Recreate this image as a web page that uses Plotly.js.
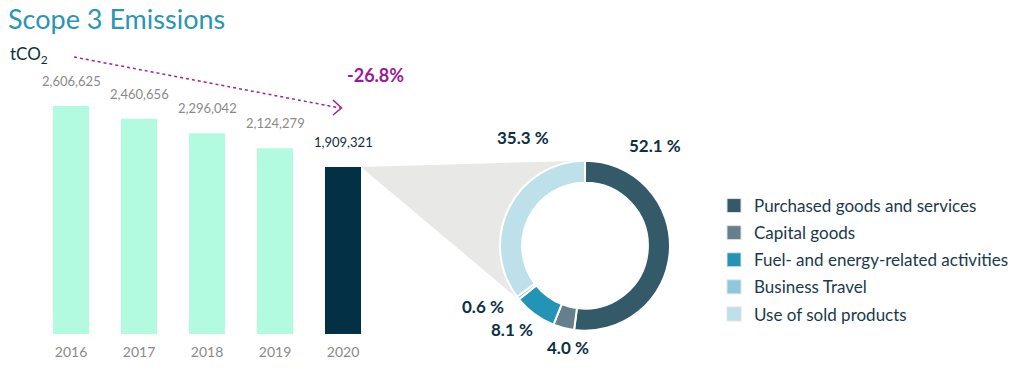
<!DOCTYPE html>
<html><head><meta charset="utf-8">
<script src="https://cdn.plot.ly/plotly-3.0.1.min.js"></script>
<style>body{margin:0;background:#fff}#c{width:1036px;height:378px}</style>
</head><body><div id="c"></div>
<script>
const years = ['2016','2017','2018','2019','2020'];
const emissions = [2606625, 2460656, 2296042, 2124279, 1909321];
const barColors = ['#b3fbe0','#b3fbe0','#b3fbe0','#b3fbe0','#033045'];
const labelColors = ['#8a8a8a','#8a8a8a','#8a8a8a','#8a8a8a','#0d2f44'];
const categories = ['Purchased goods and services','Capital goods','Fuel- and energy-related activities','Business Travel','Use of sold products'];
const shares = [52.1, 4.0, 8.1, 0.6, 35.3];
const sliceColors = ['#345a6a','#65808c','#2394b5','#8fc8dc','#bde0ea'];
const changeText = '-26.8%';

const W = 1036, H = 378;
const px = x => x / W, py = y => 1 - y / H;
const xDom = [px(37), px(377)];
const yDom = [py(334), py(40)];
const yMax = 3361000;
const bargap = 0.47;

// pie geometry
const cx = 585, cy = 245.7, rOut = 85;
const pieDomX = [px(cx - rOut), px(cx + rOut)];
const pieDomY = [py(cy + rOut), py(cy - rOut)];

// gray connector polygon from the 2020 bar to the donut
const slot = (xDom[1] - xDom[0]) * W / years.length;
const barRight = xDom[0] * W + slot * (years.length - 1 + 0.5 + (1 - bargap) / 2);
const last = emissions[emissions.length - 1];
const barTop = 334 - (last / yMax) * 294;
const toP = (x, y) => px(x).toFixed(5) + ',' + py(y).toFixed(5);
let path = 'M' + toP(barRight, barTop) + ' L' + toP(cx, cy - rOut);
const rMid = 74;
const endDeg = 360 * (1 - shares[4] / 100);
for (let d = 360; d >= endDeg; d -= 6) {
  const t = d * Math.PI / 180;
  path += ' L' + toP(cx + rMid * Math.sin(t), cy - rMid * Math.cos(t));
}
const te = endDeg * Math.PI / 180;
path += ' L' + toP(cx + rMid * Math.sin(te), cy - rMid * Math.cos(te));
path += ' L' + toP(cx + (rOut + 1) * Math.sin(te), cy - (rOut + 1) * Math.cos(te));
path += ' Z';

const font = 'Lato, sans-serif';
const annotations = [];
years.forEach((y, i) => {
  annotations.push({x: i, y: emissions[i], xref: 'x', yref: 'y', text: emissions[i].toLocaleString('en-US'),
    showarrow: false, yanchor: 'bottom', yshift: 15, font: {family: font, size: 13, color: labelColors[i]}});
});
// donut percentage labels
const pctPos = [[655,145],[568,347],[512,329],[483,306],[523,137]];
shares.forEach((s, i) => {
  annotations.push({x: px(pctPos[i][0]), y: py(pctPos[i][1]), xref: 'paper', yref: 'paper', yanchor: 'middle',
    text: '<b>' + s.toFixed(1) + ' %</b>', showarrow: false, font: {family: font, size: 17, color: '#0d2f44'}});
});
annotations.push({x: px(8), y: py(55), xref: 'paper', yref: 'paper', xanchor: 'left', yanchor: 'middle',
  text: 'tCO<sub>2</sub>',
  showarrow: false, font: {family: font, size: 17, color: '#0d2f44'}});
annotations.push({x: px(345), y: py(75), xref: 'paper', yref: 'paper', yanchor: 'middle', text: '<b>' + changeText + '</b>',
  showarrow: false, font: {family: font, size: 18, color: '#9c1a9a'}});

const shapes = [
  {type: 'path', xref: 'paper', yref: 'paper', path: path, fillcolor: '#e8e8e6', line: {width: 0}, layer: 'below'},
  {type: 'line', xref: 'paper', yref: 'paper', x0: px(74), y0: py(57), x1: px(340), y1: py(108),
   line: {color: '#a0209a', width: 1.5, dash: 'dot'}},
  {type: 'path', xref: 'paper', yref: 'paper', path: 'M' + toP(333, 100) + ' L' + toP(341.5, 108) + ' L' + toP(333, 115),
   line: {color: '#a0209a', width: 1.5}}
];

const data = [
  {type: 'bar', x: years, y: emissions, marker: {color: barColors}, hoverinfo: 'x+y', showlegend: false, cliponaxis: false},
  {type: 'pie', labels: categories, values: shares, hole: 0.74, sort: false, direction: 'clockwise', rotation: 0,
   marker: {colors: sliceColors, line: {color: '#ffffff', width: 2}}, textinfo: 'none',
   domain: {x: pieDomX, y: pieDomY}, showlegend: false}
];
// legend entries (one per donut category)
categories.forEach((c, i) => {
  data.push({type: 'scatter', mode: 'markers', x: [null], y: [null], name: c, legendgroup: 'g' + i,
    marker: {symbol: 'square', size: 14, color: sliceColors[i], line: {color: '#e2e2e2', width: 1}},
    showlegend: true, hoverinfo: 'skip'});
});

const layout = {
  width: W, height: H, margin: {l: 0, r: 0, t: 0, b: 0},
  paper_bgcolor: '#ffffff', plot_bgcolor: '#ffffff',
  font: {family: font},
  title: {text: 'Scope 3 Emissions', x: px(8), xanchor: 'left', xref: 'paper', y: py(20), yanchor: 'middle', yref: 'paper',
    font: {family: font, size: 27, color: '#2a95b5'}},
  bargap: bargap,
  xaxis: {domain: xDom, type: 'category', range: [-0.5, 4.5], autorange: false, showgrid: false, zeroline: false, showline: false, ticks: '',
    tickfont: {family: font, size: 14, color: '#8a8a8a'}, ticklabelstandoff: 8, fixedrange: true},
  yaxis: {domain: yDom, range: [0, yMax], autorange: false, visible: false, fixedrange: true},
  legend: {x: px(714), y: py(188), xanchor: 'left', yanchor: 'top', font: {family: font, size: 17, color: '#1a3a4a'},
    bgcolor: 'rgba(0,0,0,0)', itemclick: false, tracegroupgap: 2, traceorder: 'grouped'},
  annotations: annotations,
  shapes: shapes
};
Plotly.newPlot('c', data, layout, {displayModeBar: false, staticPlot: true});
</script>
</body></html>
